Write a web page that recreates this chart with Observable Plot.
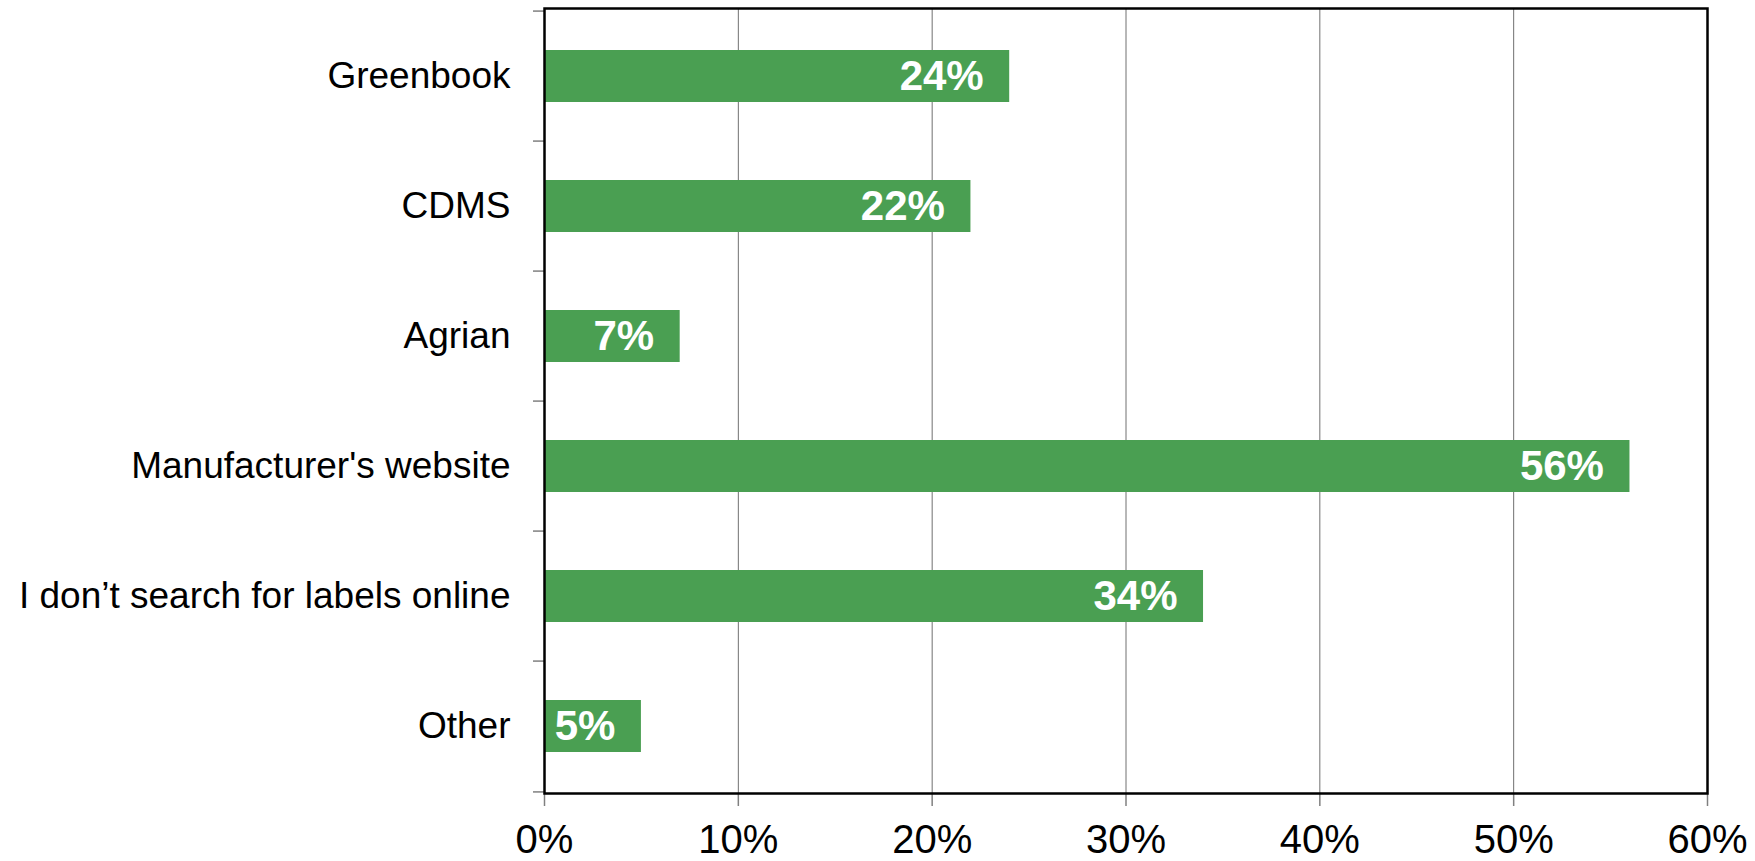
<!DOCTYPE html>
<html>
<head>
<meta charset="utf-8">
<script src="https://cdn.jsdelivr.net/npm/d3@7"></script>
<script src="https://cdn.jsdelivr.net/npm/@observablehq/plot@0.6"></script>
<style>
  html, body { margin: 0; padding: 0; background: #ffffff; }
  svg { display: block; }
</style>
</head>
<body>
<div id="chart"></div>
<script>
const categories = ["Greenbook", "CDMS", "Agrian", "Manufacturer's website", "I don\u2019t search for labels online", "Other"];
const values = [24, 22, 7, 56, 34, 5];
const xTicks = [0, 10, 20, 30, 40, 50, 60];

const data = categories.map((c, i) => ({category: c, value: values[i], label: values[i] + "%"}));

const W = 1755, H = 861;
const mL = 544, mR = 48, mT = 8, mB = 68;
const innerW = W - mL - mR;
const innerH = H - mT - mB;
const step = innerH / categories.length;
const pxPerUnit = innerW / (xTicks[xTicks.length - 1] - xTicks[0]);
const tickLenY = 11 / pxPerUnit;

const chart = Plot.plot({
  width: W,
  height: H,
  marginLeft: mL,
  marginRight: mR,
  marginTop: mT,
  marginBottom: mB,
  style: {fontFamily: "'Liberation Sans', Arial, sans-serif", background: "#ffffff", color: "#000000"},
  x: {domain: [0, 60], ticks: xTicks, tickFormat: d => d + "%"},
  y: {domain: categories, paddingInner: 0.6, paddingOuter: 0.3, align: 0.5},
  marks: [
    Plot.ruleX(xTicks.slice(1, -1), {stroke: "#707070", strokeWidth: 1}),
    Plot.barX(data, {x: "value", y: "category", fill: "#4a9f52"}),
    Plot.text(data, {x: "value", y: "category", text: "label", textAnchor: "end", dx: -26,
      fill: "#ffffff", fontWeight: "bold", fontSize: 42}),
    Plot.ruleY(categories, {y: d => d, x1: -tickLenY, x2: 0, dy: -step / 2, stroke: "#808080", strokeWidth: 1.5}),
    Plot.ruleY(categories.slice(-1), {y: d => d, x1: -tickLenY, x2: 0, dy: step / 2, stroke: "#808080", strokeWidth: 1.5}),
    Plot.axisX({ticks: xTicks, tickFormat: d => d + "%", tickSize: 13, tickPadding: 18, fontSize: 40,
      stroke: "#808080", strokeWidth: 1.5, label: null}),
    Plot.axisY({tickSize: 0, tickPadding: 34, fontSize: 37, label: null}),
    Plot.frame({stroke: "#000000", strokeWidth: 2.5})
  ]
});

document.getElementById("chart").appendChild(chart);
</script>
</body>
</html>
